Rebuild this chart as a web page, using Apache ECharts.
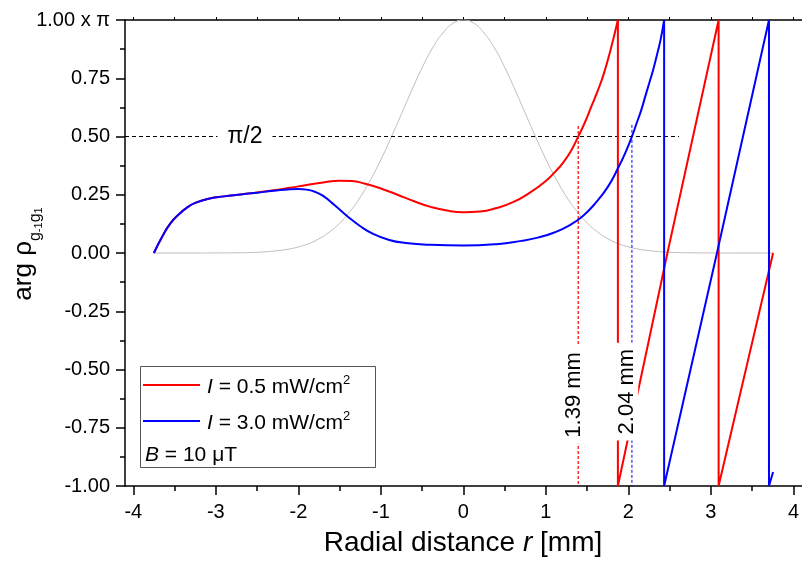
<!DOCTYPE html>
<html>
<head>
<meta charset="utf-8">
<script src="https://cdn.jsdelivr.net/npm/echarts@6/dist/echarts.min.js"></script>
<style>
html,body{margin:0;padding:0;background:#fff;}
#chart{width:802px;height:566px;}
</style>
</head>
<body>
<div id="chart"></div>
<script>
// ---- data ----
// gray beam profile (normalised)
const grayX = [-3.75,-3.5,-3.25,-3.0,-2.75,-2.5,-2.25,-2.125,-2.0,-1.875,-1.75,-1.625,-1.5,-1.375,-1.25,-1.125,-1.0,-0.875,-0.75,-0.625,-0.5,-0.375,-0.25,-0.125,0,0.125,0.25,0.375,0.5,0.625,0.75,0.875,1.0,1.125,1.25,1.375,1.5,1.625,1.75,1.875,2.0,2.125,2.25,2.5,2.75,3.0,3.25,3.5,3.75];
const grayY = [0,0,0,0.0003,0.001,0.003,0.01,0.016,0.026,0.04,0.061,0.09,0.128,0.178,0.24,0.315,0.401,0.497,0.598,0.7,0.796,0.88,0.944,0.986,1,0.986,0.944,0.88,0.796,0.7,0.598,0.497,0.401,0.315,0.24,0.178,0.128,0.09,0.061,0.04,0.026,0.016,0.01,0.003,0.001,0.0003,0,0,0];

// I = 0.5 mW/cm2 (red), smooth part
const redX = [-3.75,-3.65,-3.55,-3.45,-3.35,-3.25,-3.1,-2.9,-2.7,-2.5,-2.3,-2.1,-1.9,-1.7,-1.5,-1.35,-1.2,-1.0,-0.8,-0.6,-0.4,-0.2,0,0.2,0.4,0.6,0.8,1.0,1.1,1.2,1.3,1.39,1.47,1.55,1.63,1.7,1.78,1.87];
const redY = [0,0.07,0.127,0.165,0.195,0.215,0.232,0.243,0.251,0.26,0.269,0.28,0.292,0.303,0.31,0.309,0.298,0.277,0.25,0.222,0.198,0.182,0.175,0.178,0.193,0.218,0.258,0.31,0.345,0.385,0.437,0.5,0.56,0.63,0.70,0.77,0.87,1.0];
// red phase-wrapped part
const redWrapX = [1.87,1.87,2.47,3.09,3.09,3.75];
const redWrapY = [1.0,-1.0,0.0,1.0,-1.0,0.0];

// I = 3.0 mW/cm2 (blue), smooth part
const blueX = [-3.75,-3.65,-3.55,-3.45,-3.35,-3.25,-3.1,-2.9,-2.7,-2.5,-2.3,-2.1,-2.0,-1.9,-1.8,-1.7,-1.56,-1.4,-1.25,-1.1,-0.9,-0.7,-0.4,0,0.4,0.7,0.9,1.1,1.3,1.45,1.6,1.75,1.88,1.96,2.04,2.1,2.15,2.2,2.25,2.3,2.35,2.39,2.43];
const blueY = [0,0.07,0.127,0.165,0.195,0.215,0.232,0.243,0.251,0.259,0.267,0.274,0.275,0.272,0.263,0.245,0.205,0.156,0.115,0.083,0.056,0.043,0.035,0.032,0.038,0.052,0.066,0.088,0.122,0.16,0.215,0.285,0.37,0.43,0.5,0.56,0.61,0.67,0.73,0.79,0.86,0.92,1.0];
// blue phase-wrapped part
const blueWrapX = [2.43,2.43,3.07,3.70,3.70,3.75];
const blueWrapY = [1.0,-1.0,0.0,1.0,-1.0,-0.94];

// reference level pi/2 and the radii where it is reached
const halfPiLevel = 0.5;
const halfPiLineX = [-4.1, 2.61];
const radiusRed = 1.39;
const radiusBlue = 2.04;
const radiusLineTop = [0.545, 0.55];

// tick labels
const yTickLabels = ['-1.00','-0.75','-0.50','-0.25','0.00','0.25','0.50','0.75','1.00 x π'];
const yTickValues = [-1,-0.75,-0.5,-0.25,0,0.25,0.5,0.75,1];

// ---- helpers ----
const zip = (xs, ys) => xs.map((x, i) => [x, ys[i]]);
const FONT = '"Liberation Sans", Arial, sans-serif';

const chart = echarts.init(document.getElementById('chart'), null, {renderer: 'canvas'});

const lineBase = {type: 'line', symbol: 'none', xAxisIndex: 0, yAxisIndex: 0, animation: false};
const annLabel = (text, size, rot, pad) => ({show: true, formatter: text, fontSize: size, rotate: rot,
  padding: pad, color: '#000', opacity: 1, backgroundColor: '#fff', fontFamily: FONT, position: 'inside'});

const option = {
  animation: false,
  backgroundColor: '#fff',
  textStyle: {fontFamily: FONT},
  grid: [
    {left: 125, top: 20, width: 683, height: 466},
    {left: 133.33, top: 20, width: 666.4, height: 466}
  ],
  xAxis: [
    {gridIndex: 0, type: 'value', min: -4.1, max: 4.1, position: 'bottom',
     axisLine: {show: true, onZero: false, lineStyle: {color: '#000', width: 1.5}},
     axisTick: {show: false}, axisLabel: {show: false}, splitLine: {show: false}},
    {gridIndex: 0, type: 'value', min: -4.1, max: 4.1, position: 'top',
     axisLine: {show: true, onZero: false, lineStyle: {color: '#000', width: 1.5}},
     axisTick: {show: false}, axisLabel: {show: false}, splitLine: {show: false}},
    {gridIndex: 1, type: 'value', min: -4, max: 4, interval: 1, position: 'bottom',
     axisLine: {show: false, onZero: false},
     axisTick: {show: true, length: 9, lineStyle: {color: '#000', width: 1.5}},
     minorTick: {show: true, splitNumber: 2, length: 5, lineStyle: {color: '#000', width: 1.5}},
     axisLabel: {show: true, fontSize: 20, color: '#000', margin: 16, fontFamily: FONT},
     splitLine: {show: false}},
    {gridIndex: 1, type: 'value', min: -4, max: 4, interval: 1, position: 'top',
     axisLine: {show: false, onZero: false},
     axisTick: {show: true, length: 3, lineStyle: {color: '#000', width: 1}},
     minorTick: {show: true, splitNumber: 2, length: 3, lineStyle: {color: '#000', width: 1}},
     axisLabel: {show: false}, splitLine: {show: false}}
  ],
  yAxis: [
    {gridIndex: 0, type: 'value', min: -1, max: 1, interval: 0.25, position: 'left',
     axisLine: {show: true, onZero: false, lineStyle: {color: '#000', width: 1.5}},
     axisTick: {show: true, length: 9, lineStyle: {color: '#000', width: 1.5}},
     minorTick: {show: true, splitNumber: 2, length: 5, lineStyle: {color: '#000', width: 1.5}},
     axisLabel: {show: true, fontSize: 20, color: '#000', margin: 15, fontFamily: FONT,
       formatter: v => {
         const i = yTickValues.findIndex(t => Math.abs(t - v) < 1e-6);
         return i >= 0 ? yTickLabels[i] : '';
       }},
     splitLine: {show: false}},
    {gridIndex: 1, type: 'value', min: -1, max: 1, show: false}
  ],
  series: [
    Object.assign({}, lineBase, {name: 'profile', data: zip(grayX, grayY), smooth: true, z: 1,
      lineStyle: {color: '#bdbdbd', width: 1}}),
    Object.assign({}, lineBase, {name: 'halfpi', data: halfPiLineX.map(x => [x, halfPiLevel]), z: 2,
      lineStyle: {color: '#000', width: 1, type: [4, 3]}}),
    Object.assign({}, lineBase, {name: 'rRed', data: [[radiusRed, radiusLineTop[0]], [radiusRed, -1]], z: 2,
      lineStyle: {color: '#ff3030', width: 1.5, type: [3, 2]}}),
    Object.assign({}, lineBase, {name: 'rBlue', data: [[radiusBlue, radiusLineTop[1]], [radiusBlue, -1]], z: 2,
      lineStyle: {color: '#0000ff', width: 1, type: [3, 2]}}),
    Object.assign({}, lineBase, {name: 'I = 0.5', data: zip(redX, redY), smooth: true, z: 3,
      lineStyle: {color: '#ff0000', width: 2}}),
    Object.assign({}, lineBase, {name: 'I = 0.5 wrap', data: zip(redWrapX, redWrapY), z: 3,
      lineStyle: {color: '#ff0000', width: 2}}),
    Object.assign({}, lineBase, {name: 'I = 3.0', data: zip(blueX, blueY), smooth: true, z: 4,
      lineStyle: {color: '#0000ff', width: 2}}),
    Object.assign({}, lineBase, {name: 'I = 3.0 wrap', data: zip(blueWrapX, blueWrapY), z: 4,
      lineStyle: {color: '#0000ff', width: 2}}),
    {
      type: 'scatter', xAxisIndex: 0, yAxisIndex: 0, symbolSize: 0, z: 10, silent: true,
      itemStyle: {opacity: 1, color: '#000'},
      emphasis: {disabled: true},
      data: [
        {value: [-2.647, halfPiLevel], label: annLabel('π/2', 23, 0, [2, 10])},
        {value: [1.333, -0.609], label: annLabel(radiusRed.toFixed(2) + ' mm', 22, 90, [0, 6])},
        {value: [1.983, -0.595], label: annLabel(radiusBlue.toFixed(2) + ' mm', 22, 90, [0, 6])}
      ]
    }
  ],
  graphic: [
    // legend box
    {type: 'rect', shape: {x: 140.5, y: 366.5, width: 235, height: 101}, z: 20,
     style: {fill: '#fff', stroke: '#555', lineWidth: 1}},
    {type: 'line', shape: {x1: 143, y1: 385, x2: 200, y2: 385}, z: 21, style: {stroke: '#ff0000', lineWidth: 2}},
    {type: 'line', shape: {x1: 143, y1: 421, x2: 200, y2: 421}, z: 21, style: {stroke: '#0000ff', lineWidth: 2}},
    {type: 'text', x: 207, y: 387, z: 21, style: {
      text: '{i|I}{n| = 0.5 mW/cm}{s|2}', verticalAlign: 'middle', align: 'left',
      rich: {i: {fontSize: 21, fontStyle: 'italic', fontFamily: FONT, lineHeight: 26, fill: '#000'},
             n: {fontSize: 21, fontFamily: FONT, lineHeight: 26, fill: '#000'},
             s: {fontSize: 13, fontFamily: FONT, lineHeight: 13, verticalAlign: 'top', fill: '#000'}}}},
    {type: 'text', x: 207, y: 423, z: 21, style: {
      text: '{i|I}{n| = 3.0 mW/cm}{s|2}', verticalAlign: 'middle', align: 'left',
      rich: {i: {fontSize: 21, fontStyle: 'italic', fontFamily: FONT, lineHeight: 26, fill: '#000'},
             n: {fontSize: 21, fontFamily: FONT, lineHeight: 26, fill: '#000'},
             s: {fontSize: 13, fontFamily: FONT, lineHeight: 13, verticalAlign: 'top', fill: '#000'}}}},
    {type: 'text', x: 145, y: 455, z: 21, style: {
      text: '{i|B}{n| = 10 μT}', verticalAlign: 'middle', align: 'left',
      rich: {i: {fontSize: 21, fontStyle: 'italic', fontFamily: FONT, fill: '#000'},
             n: {fontSize: 21, fontFamily: FONT, fill: '#000'}}}},
    // axis titles
    {type: 'text', x: 463, y: 543, z: 21, style: {
      text: '{n|Radial distance }{i|r}{n| [mm]}', align: 'center', verticalAlign: 'middle',
      rich: {n: {fontSize: 28, fontFamily: FONT, fill: '#000'},
             i: {fontSize: 28, fontStyle: 'italic', fontFamily: FONT, fill: '#000'}}}},
    {type: 'text', x: 24, y: 254, rotation: Math.PI / 2, z: 21, style: {
      text: '{m|arg ρ}{s|g}{ss|-1}{s|g}{ss|1}', align: 'center', verticalAlign: 'middle',
      rich: {m: {fontSize: 26, fontFamily: FONT, fill: '#000', lineHeight: 40, verticalAlign: 'middle'},
             s: {fontSize: 16, fontFamily: FONT, fill: '#000', lineHeight: 22, verticalAlign: 'bottom'},
             ss: {fontSize: 11, fontFamily: FONT, fill: '#000', lineHeight: 14, verticalAlign: 'bottom'}}}}
  ]
};

chart.setOption(option);
</script>
</body>
</html>
